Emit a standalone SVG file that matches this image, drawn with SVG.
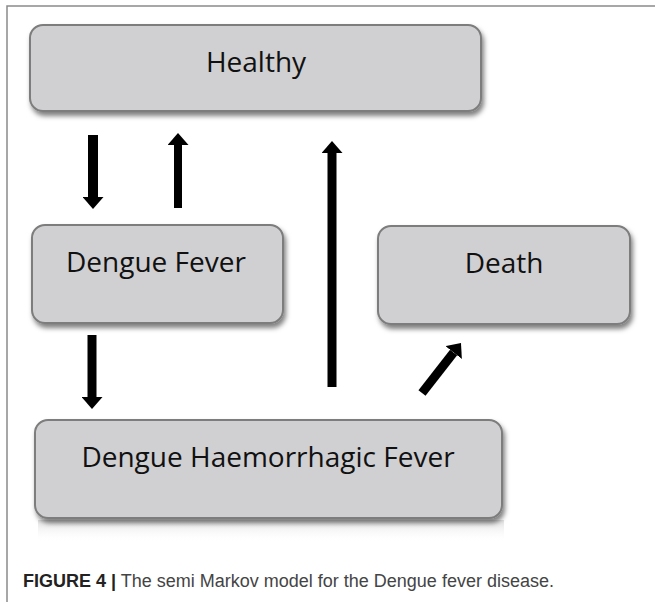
<svg xmlns="http://www.w3.org/2000/svg" width="655" height="602" viewBox="0 0 655 602">
<style>
.box{fill:#d0cfd1;stroke:#7d7d7d;stroke-width:2;filter:url(#sh)}
.lbl{font-family:"Open Sans","Liberation Sans",sans-serif;font-size:28px;fill:#111;text-anchor:middle}
.arr{stroke:#000;fill:none;stroke-linecap:butt;marker-end:url(#head)}
.cap{font-family:"Liberation Sans",Arial,sans-serif;font-size:18px;fill:#444}
</style>
<defs>
<filter id="sh" x="-10%" y="-20%" width="125%" height="150%">
<feDropShadow dx="2" dy="4" stdDeviation="2.5" flood-color="#000" flood-opacity="0.5"/>
</filter>
<marker id="head" markerUnits="userSpaceOnUse" viewBox="0 0 12 21" markerWidth="12" markerHeight="21" refX="0" refY="10.5" orient="auto">
<path d="M0,0 L12,10.5 L0,21 Z" fill="#000"/>
</marker>
<linearGradient id="refl" x1="0" y1="0" x2="0" y2="1">
<stop offset="0" stop-color="#d8d8d8" stop-opacity="0.8"/>
<stop offset="1" stop-color="#ffffff" stop-opacity="0"/>
</linearGradient>
</defs>
<rect width="655" height="602" fill="#fff"/>
<path d="M7,602 V6 H655" fill="none" stroke="#8a8a8a" stroke-width="1.5"/>
<rect x="38" y="520" width="466" height="22" fill="url(#refl)"/>
<g id="connectors">
<line class="arr" x1="93" y1="135" x2="93" y2="197" stroke-width="10"/>
<line class="arr" x1="178" y1="208" x2="178" y2="145" stroke-width="8"/>
<line class="arr" x1="332" y1="387" x2="332" y2="153" stroke-width="9"/>
<line class="arr" x1="92" y1="335" x2="92" y2="397" stroke-width="9"/>
<line class="arr" x1="422" y1="393" x2="453.6" y2="352.5" stroke-width="9"/>
</g>
<g id="healthy">
<rect class="box" x="30" y="25" width="451" height="86" rx="13"/>
<text class="lbl" x="256" y="72">Healthy</text>
</g>
<g id="dengue-fever">
<rect class="box" x="32" y="225" width="251" height="98" rx="13"/>
<text class="lbl" x="156" y="272">Dengue Fever</text>
</g>
<g id="death">
<rect class="box" x="378" y="226" width="252" height="98" rx="13"/>
<text class="lbl" x="504" y="273">Death</text>
</g>
<g id="dhf">
<rect class="box" x="35" y="420" width="467" height="98" rx="13"/>
<text class="lbl" x="268" y="467">Dengue Haemorrhagic Fever</text>
</g>
<text class="cap" x="23" y="587"><tspan font-weight="bold" fill="#222">FIGURE 4 |</tspan> The semi Markov model for the Dengue fever disease.</text>
</svg>
